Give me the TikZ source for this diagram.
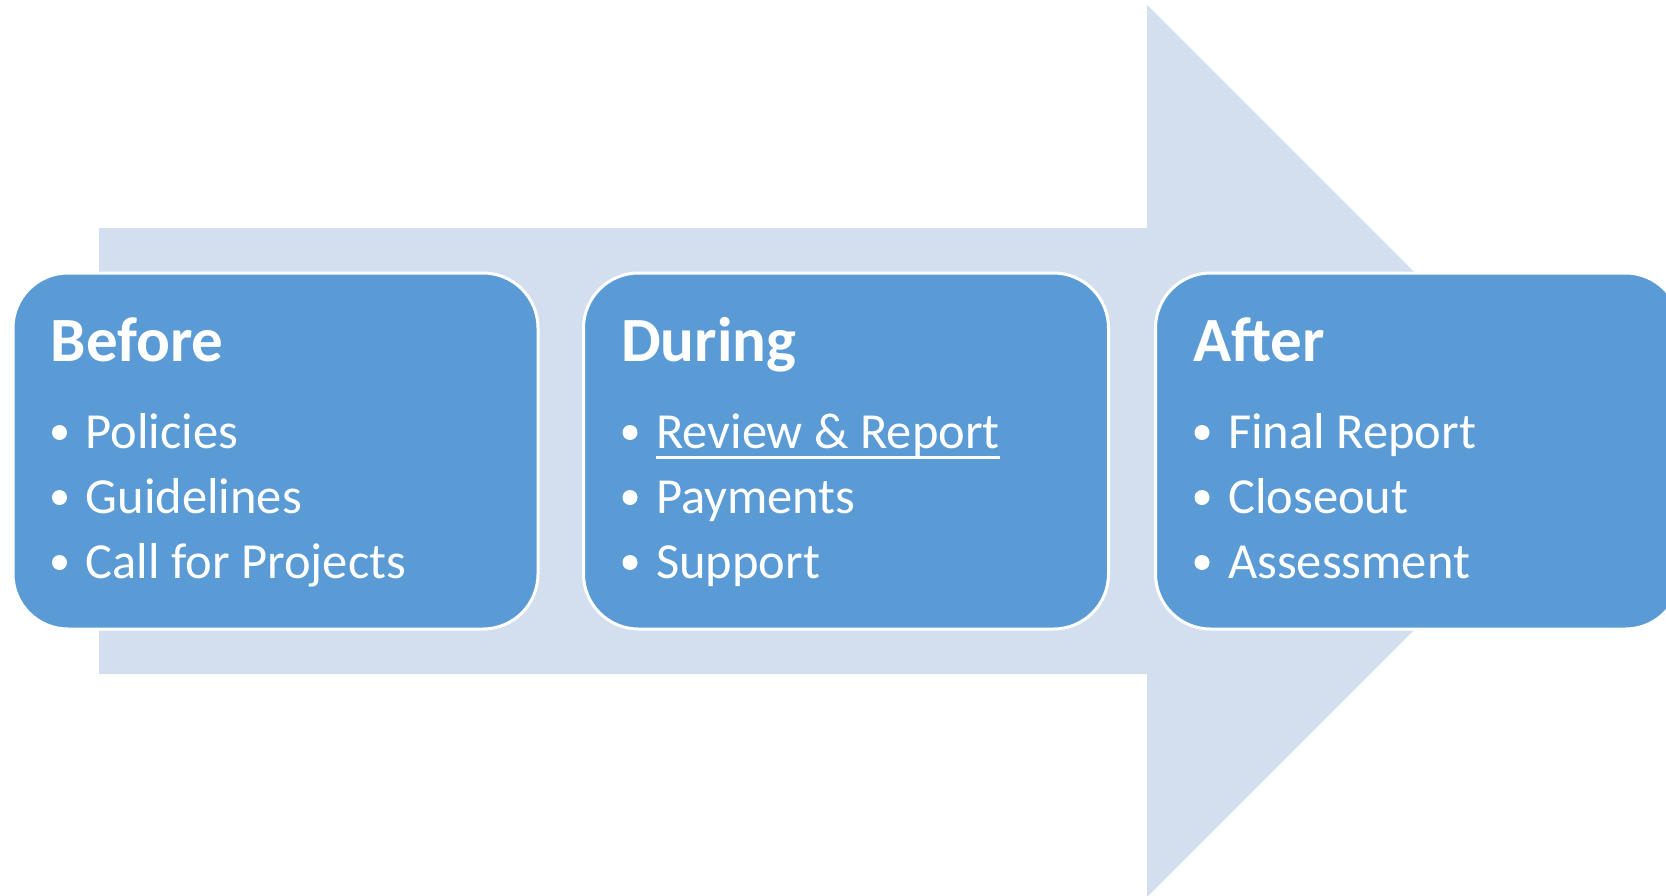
\documentclass[tikz,border=0pt]{standalone}
\usepackage{fontspec}
\setmainfont{Carlito}
\definecolor{boxblue}{HTML}{5B9BD5}
\definecolor{arrowblue}{HTML}{D3DEEF}
\tikzset{
  stagebox/.style={fill=boxblue, draw=white, line width=3pt, rounded corners=55pt,
    minimum width=525pt, minimum height=356pt, inner sep=0pt},
  stagetitle/.style={anchor=base west, inner sep=0pt, text=white,
    font=\fontsize{63}{70}\selectfont\bfseries},
  stageitem/.style={anchor=base west, inner sep=0pt, text=white,
    font=\fontsize{50.5}{58}\selectfont},
  bulletdot/.style={fill=white}
}
\begin{document}
\begin{tikzpicture}[x=1pt, y=-1pt]
\useasboundingbox (0,0) rectangle (1666,895);
\clip (0,0) rectangle (1666,895);
% big background arrow
\fill[arrowblue] (99,228) -- (1147,228) -- (1147,5) -- (1593,451) -- (1147,897)
  -- (1147,674) -- (99,674) -- cycle;
% boxes
\node[stagebox] (b1) at (275.5,451) {};
\node[stagebox] (b2) at (846,451) {};
\node[stagebox] (b3) at (1418,451) {};
% titles
\node[stagetitle] (t1) at ([xshift=39pt, yshift=-90pt]b1.north west) {Before};
\node[stagetitle] (t2) at ([xshift=39pt, yshift=-90pt]b2.north west) {During};
\node[stagetitle] (t3) at ([xshift=39pt, yshift=-90pt]b3.north west) {After};
% items box 1
\node[stageitem] (i11) at ([xshift=74pt, yshift=-177pt]b1.north west) {Policies};
\node[stageitem] (i12) at ([xshift=74pt, yshift=-242pt]b1.north west) {Guidelines};
\node[stageitem] (i13) at ([xshift=74pt, yshift=-307pt]b1.north west) {Call for Projects};
% items box 2
\node[stageitem] (i21) at ([xshift=74pt, yshift=-177pt]b2.north west) {Review \& Report};
\node[stageitem] (i22) at ([xshift=74pt, yshift=-242pt]b2.north west) {Payments};
\node[stageitem] (i23) at ([xshift=74pt, yshift=-307pt]b2.north west) {Support};
% items box 3
\node[stageitem] (i31) at ([xshift=74pt, yshift=-177pt]b3.north west) {Final Report};
\node[stageitem] (i32) at ([xshift=74pt, yshift=-242pt]b3.north west) {Closeout};
\node[stageitem] (i33) at ([xshift=74pt, yshift=-307pt]b3.north west) {Assessment};
% underline
\draw[white, line width=2.5pt] ([yshift=-9pt]i21.base west) -- ([yshift=-9pt]i21.base east);
% bullets
\foreach \n in {i11,i12,i13,i21,i22,i23,i31,i32,i33}{
  \fill[bulletdot] ([xshift=-26pt, yshift=16pt]\n.base west) circle (7.5pt);
}
\end{tikzpicture}
\end{document}
